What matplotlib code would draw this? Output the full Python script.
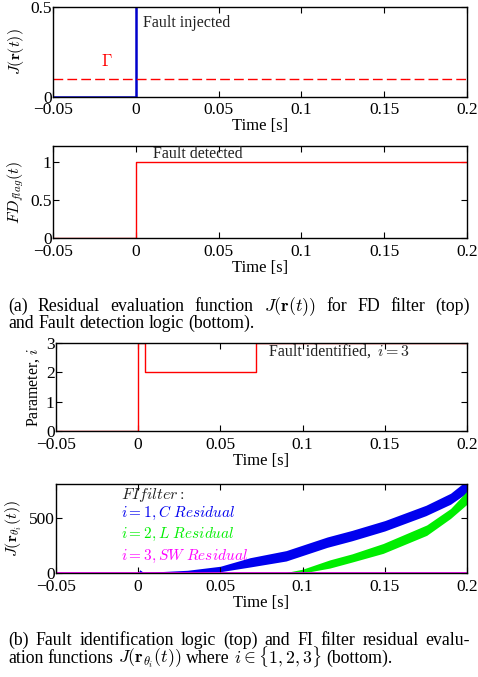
import matplotlib
matplotlib.use("Agg")
import matplotlib.pyplot as plt
import numpy as np

plt.rcParams['font.family'] = ['Liberation Serif', 'DejaVu Serif']
plt.rcParams['mathtext.fontset'] = 'cm'
plt.rcParams['font.size'] = 11
plt.rcParams['axes.unicode_minus'] = True

# data
# (a) top: residual evaluation of the FD filter
t_fd = [-0.05, 0.0, 0.0, 0.2]
j_fd = [0.0, 0.0, 5.0, 5.0]
gamma = 0.1

# (a) bottom: fault detection flag
t_flag = [-0.05, 0.0, 0.0, 0.2]
fd_flag = [0, 0, 1, 1]

# (b) top: identified parameter
t_par = [-0.05, 0.0, 0.0, 0.004, 0.004, 0.0715, 0.0715, 0.2]
par_i = [0, 0, 3, 3, 2, 2, 3, 3]

# (b) bottom: FI filter residuals (thick bands: lower / upper edge)
t_c = [0.0, 0.001, 0.003, 0.01, 0.03, 0.05, 0.068, 0.09, 0.1, 0.115,
       0.13, 0.15, 0.175, 0.19, 0.2]
c_lo = [0, 0, 0, 0, 0, 12, 55, 110, 160, 235, 295, 385, 525, 630, 735]
c_hi = [0, 30, 8, 10, 25, 62, 140, 205, 255, 330, 390, 480, 620, 730, 850]
t_l = [0.085, 0.09, 0.1, 0.1165, 0.13, 0.149, 0.1755, 0.19, 0.2]
l_lo = [0, 0, 0, 45, 100, 180, 345, 500, 630]
l_hi = [0, 5, 35, 120, 175, 270, 440, 590, 750]
t_sw = [-0.05, 0.2]
sw = [0, 0]

xticks = [-0.05, 0, 0.05, 0.1, 0.15, 0.2]
xticklabels = ['\u22120.05', '0', '0.05', '0.1', '0.15', '0.2']

caption_a = [r'(a) Residual evaluation function $J(\mathbf{r}(t))$ for FD filter (top)',
             'and Fault detection logic (bottom).']
caption_b = ['(b) Fault identification logic (top) and FI filter residual evalu-',
             r'ation functions $J(\mathbf{r}_{\theta_i}(t))$ where $i \in \{1, 2, 3\}$ (bottom).']

W, H = 478, 677
fig = plt.figure(figsize=(W / 100, H / 100), dpi=100)
renderer = fig.canvas.get_renderer()


def style(ax, yticks, ylim):
    ax.set_xlim(-0.05, 0.2)
    ax.set_ylim(*ylim)
    ax.set_xticks(xticks)
    ax.set_xticklabels(xticklabels)
    ax.set_yticks(yticks)
    ax.tick_params(direction='in', top=True, right=True, length=4, width=0.8,
                   labelsize=12.5, pad=1)
    ax.tick_params(axis='x', pad=4)
    ax.set_xlabel('Time [s]', fontsize=12, labelpad=0)
    for s in ax.spines.values():
        s.set_linewidth(1.0)


def text_line(x_px, y_px, line, fs, width=None, **kw):
    # words one by one so a line can be stretched like justified text
    words = line.split(' ')
    merged, buf = [], ''
    for w in words:
        buf = w if not buf else buf + ' ' + w
        if buf.count('$') % 2 == 0:
            merged.append(buf)
            buf = ''
    arts = [fig.text(0, 1 - y_px / H, w, fontsize=fs, va='baseline', ha='left', **kw)
            for w in merged]
    widths = [a.get_window_extent(renderer).width for a in arts]
    gap = fs * 0.25 * 100 / 72
    if width is not None and len(arts) > 1:
        gap = max(2.0, (width - sum(widths)) / (len(arts) - 1))
    x = x_px
    for a, w in zip(arts, widths):
        a.set_x(x / W)
        x += w + gap


ax1 = fig.add_axes([0.111, 0.857, 0.866, 0.133])
ax1.plot(t_fd, j_fd, color='#0000cc', lw=1.8)
ax1.axhline(gamma, color='red', lw=1.0, dashes=(7, 3))
ax1.text(-0.0176, 0.196, r'$\Gamma$', color='red', fontsize=12, ha='center', va='center')
ax1.text(0.0042, 0.41, 'Fault injected', fontsize=11.5, color='#222222', va='center')
style(ax1, [0, 0.5], (0, 0.5))
ax1.set_yticklabels(['0', '0.5'])
ax1.set_ylabel(r'$J(\mathbf{r}(t))$', fontsize=11.5, labelpad=3)

ax2 = fig.add_axes([0.111, 0.648, 0.866, 0.136])
ax2.plot(t_flag, fd_flag, color='red', lw=1.0)
ax2.text(0.0102, 1.0, 'Fault detected', fontsize=11.5, color='#222222', va='bottom')
style(ax2, [0, 0.5, 1], (0, 1.2))
ax2.set_yticklabels(['0', '0.5', '1'])
ax2.set_ylabel(r'$FD_{flag}(t)$', fontsize=11.5, labelpad=3)

ax3 = fig.add_axes([0.117, 0.3634, 0.860, 0.130])
ax3.plot(t_par, par_i, color='red', lw=1.0)
lbl = ax3.text(0.0796, 2.7, 'Fault identified,', fontsize=11.5, color='#222222', va='center')
ax3.annotate(r'$i=3$', xy=(1, 0.5), xycoords=lbl, xytext=(4, 0),
             textcoords='offset points', fontsize=11.5, color='#222222',
             va='center', ha='left')
style(ax3, [0, 1, 2, 3], (0, 3))
ax3.set_ylabel(r'Parameter, $i$', fontsize=11.5, labelpad=3)

ax4 = fig.add_axes([0.117, 0.1536, 0.860, 0.1315])
ax4.fill_between(t_c, c_lo, c_hi, color='#0000ee', lw=0)
ax4.fill_between(t_l, l_lo, l_hi, color='#00ee00', lw=0)
ax4.plot(t_sw, sw, color='#ff00ff', lw=2.0)
ax4.text(-0.0105, 713, r'$FI filter:$', fontsize=11.5, color='#222222', va='center')
ax4.text(-0.0105, 551, r'$i=1,C\ Residual$', fontsize=11, color='#0000ee', va='center')
ax4.text(-0.0105, 356, r'$i=2,L\ Residual$', fontsize=11, color='#00ee00', va='center')
ax4.text(-0.0105, 155, r'$i=3,SW\ Residual$', fontsize=11, color='#ff00ff', va='center')
style(ax4, [0, 500], (0, 815))
ax4.set_ylabel(r'$J(\mathbf{r}_{\theta_i}(t))$', fontsize=11.5, labelpad=3)

text_line(8, 311, caption_a[0], 12.8, width=462)
text_line(8, 328, caption_a[1], 12.8)
text_line(8, 645, caption_b[0], 12.8, width=462)
text_line(8, 663, caption_b[1], 12.8)

fig.savefig('out.png', dpi=100)
